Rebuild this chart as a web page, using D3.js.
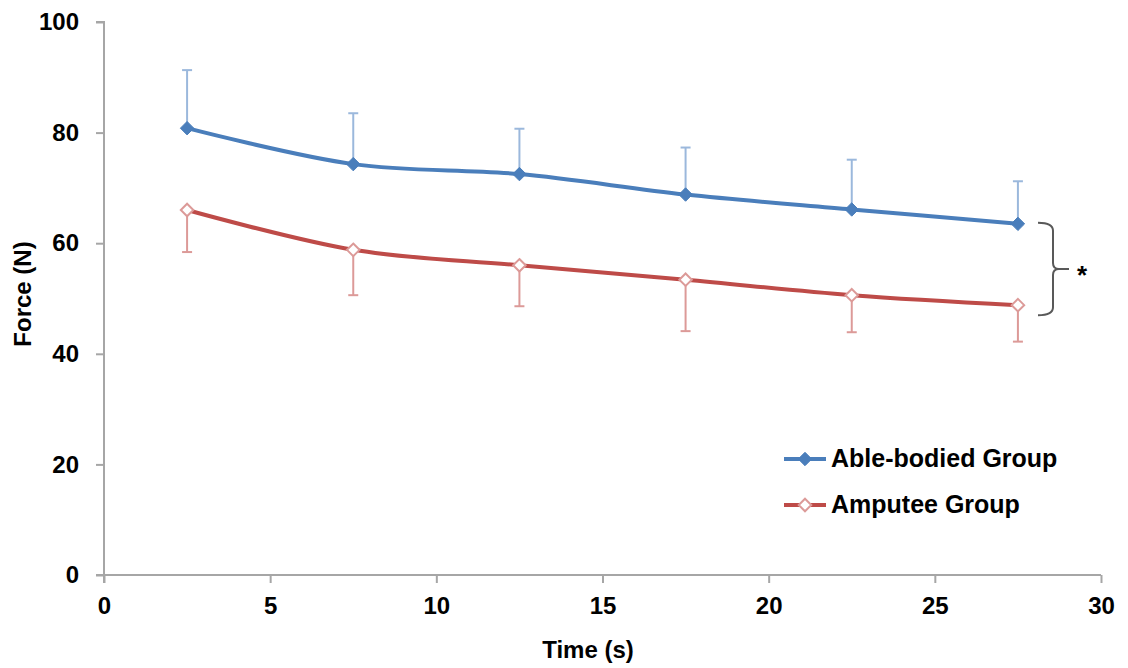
<!DOCTYPE html>
<html>
<head>
<meta charset="utf-8">
<script src="https://cdn.jsdelivr.net/npm/d3@7"></script>
<style>
  body { margin: 0; background: #fff; }
  svg text { font-family: "Liberation Sans", Arial, sans-serif; font-weight: bold; fill: #000; }
</style>
</head>
<body>
<div id="chart"></div>
<script>
// values
var times = [2.5, 7.5, 12.5, 17.5, 22.5, 27.5];
var ableMean = [80.8, 74.3, 72.5, 68.8, 66.1, 63.5];
var ableUpper = [91.3, 83.5, 80.7, 77.3, 75.1, 71.2];
var ampMean = [66.0, 58.8, 56.0, 53.4, 50.6, 48.8];
var ampLower = [58.4, 50.6, 48.6, 44.1, 43.9, 42.2];
var xTicks = [0, 5, 10, 15, 20, 25, 30];
var yTicks = [0, 20, 40, 60, 80, 100];

var W = 1128, H = 668;

var svg = d3.select("#chart").append("svg")
  .attr("width", W).attr("height", H);

var x = d3.scaleLinear().domain([0, 30]).range([104, 1101]);
var y = d3.scaleLinear().domain([0, 100]).range([575, 22]);

var axisColor = "#a6a6a6";
var tickFont = "24px";

// y axis
var yAxis = svg.append("g")
  .attr("transform", "translate(" + x(0) + ",0)")
  .call(d3.axisLeft(y).tickValues(yTicks).tickSize(8).tickPadding(17));
// x axis
var xAxis = svg.append("g")
  .attr("transform", "translate(0," + y(0) + ")")
  .call(d3.axisBottom(x).tickValues(xTicks).tickSize(8).tickPadding(14));

[yAxis, xAxis].forEach(function(g) {
  g.select(".domain").attr("stroke", axisColor).attr("stroke-width", 2);
  g.selectAll(".tick line").attr("stroke", axisColor).attr("stroke-width", 2);
  g.selectAll(".tick text").style("font-size", tickFont).style("font-family", "'Liberation Sans', Arial, sans-serif").style("font-weight", "bold").attr("fill", "#000");
});
// extend y domain down to meet x ticks, like Excel
yAxis.select(".domain").attr("d", "M-8," + y(100) + "H0V" + (y(0) + 8));
xAxis.select(".domain").attr("d", "M" + (x(0) - 8) + ",0H" + x(30));

// axis titles
svg.append("text")
  .attr("x", 588).attr("y", 658)
  .attr("text-anchor", "middle")
  .style("font-size", "24px")
  .text("Time (s)");
svg.append("text")
  .attr("transform", "translate(31,294) rotate(-90)")
  .attr("text-anchor", "middle")
  .style("font-size", "24px")
  .text("Force (N)");

var blue = "#4a7ebb", blueErr = "#9bb8dc";
var red = "#be4b48", redErr = "#dc9a98";

function errorBars(vals, ends, color) {
  var g = svg.append("g");
  times.forEach(function(t, i) {
    g.append("line")
      .attr("x1", x(t)).attr("x2", x(t))
      .attr("y1", y(vals[i])).attr("y2", y(ends[i]))
      .attr("stroke", color).attr("stroke-width", 2);
    g.append("line")
      .attr("x1", x(t) - 5).attr("x2", x(t) + 5)
      .attr("y1", y(ends[i])).attr("y2", y(ends[i]))
      .attr("stroke", color).attr("stroke-width", 2);
  });
}
errorBars(ableMean, ableUpper, blueErr);
errorBars(ampMean, ampLower, redErr);

var line = d3.line()
  .x(function(d) { return x(d[0]); })
  .y(function(d) { return y(d[1]); })
  .curve(d3.curveCatmullRom.alpha(0.5));

function series(vals, color) {
  svg.append("path")
    .datum(times.map(function(t, i) { return [t, vals[i]]; }))
    .attr("fill", "none")
    .attr("stroke", color)
    .attr("stroke-width", 4)
    .attr("d", line);
}
series(ableMean, blue);
series(ampMean, red);

var diamond = d3.symbol().type(d3.symbolDiamond2);

function markers(vals, fill, stroke, sw, size) {
  svg.append("g").selectAll("path").data(vals).enter().append("path")
    .attr("d", diamond.size(size))
    .attr("transform", function(d, i) { return "translate(" + x(times[i]) + "," + y(d) + ")"; })
    .attr("fill", fill)
    .attr("stroke", stroke)
    .attr("stroke-width", sw);
}
markers(ableMean, blue, blue, 1, 115);
markers(ampMean, "#fff", redErr, 2, 100);

// significance bracket
var bx = 1038, by0 = y(ableMean[5]) - 1, by1 = y(ampMean[5]) + 10, bm = (by0 + by1) / 2;
svg.append("path")
  .attr("d", "M" + bx + "," + by0 +
    " Q" + (bx + 15) + "," + by0 + " " + (bx + 15) + "," + (by0 + 8) +
    " V" + (bm - 6) +
    " Q" + (bx + 15) + "," + bm + " " + (bx + 21) + "," + bm +
    " H" + (bx + 31) +
    " M" + (bx + 21) + "," + bm +
    " Q" + (bx + 15) + "," + bm + " " + (bx + 15) + "," + (bm + 6) +
    " V" + (by1 - 8) +
    " Q" + (bx + 15) + "," + by1 + " " + bx + "," + by1)
  .attr("fill", "none")
  .attr("stroke", "#595959")
  .attr("stroke-width", 2);
svg.append("text")
  .attr("x", 1082).attr("y", bm + 15)
  .attr("text-anchor", "middle")
  .style("font-size", "26px")
  .text("*");

// legend
var legend = [
  {name: "Able-bodied Group", color: blue, fill: blue, stroke: blue, sw: 1, size: 115},
  {name: "Amputee Group", color: red, fill: "#fff", stroke: redErr, sw: 2, size: 100}
];
var lg = svg.append("g").selectAll("g").data(legend).enter().append("g")
  .attr("transform", function(d, i) { return "translate(784," + (459 + i * 46) + ")"; });
lg.append("line")
  .attr("x1", 0).attr("x2", 42)
  .attr("stroke", function(d) { return d.color; })
  .attr("stroke-width", 4);
lg.append("path")
  .attr("d", function(d) { return diamond.size(d.size)(); })
  .attr("transform", "translate(21,0)")
  .attr("fill", function(d) { return d.fill; })
  .attr("stroke", function(d) { return d.stroke; })
  .attr("stroke-width", function(d) { return d.sw; });
lg.append("text")
  .attr("x", 47).attr("y", 8)
  .style("font-size", "25px")
  .text(function(d) { return d.name; });
</script>
</body>
</html>
